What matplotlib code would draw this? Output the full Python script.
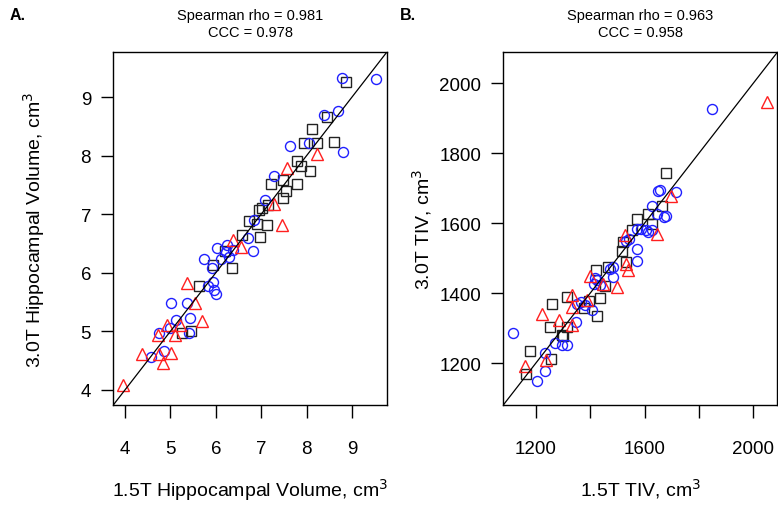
import matplotlib
matplotlib.use("Agg")
import matplotlib.pyplot as plt

plt.rcParams['font.family'] = ['Liberation Sans', 'DejaVu Sans']

# ---- Panel A: hippocampal volume (cm3) ----
a_sq_x = [8.88, 8.46, 8.13, 7.94, 8.22, 8.60, 7.79, 7.88, 8.08, 7.48, 7.21, 7.79, 7.54, 7.49,
          7.16, 6.95, 7.02, 6.73, 6.91, 7.13, 6.57, 6.97, 6.20, 5.94, 6.36, 5.63, 5.26, 5.45]
a_sq_y = [9.26, 8.66, 8.45, 8.22, 8.21, 8.23, 7.91, 7.82, 7.74, 7.59, 7.51, 7.51, 7.39, 7.28,
          7.15, 7.07, 7.11, 6.88, 6.84, 6.82, 6.64, 6.61, 6.37, 6.14, 6.09, 5.78, 4.98, 5.01]

a_ci_x = [8.79, 9.53, 8.38, 8.70, 7.63, 8.05, 8.81, 7.28, 7.08, 6.84, 6.72, 6.03, 6.24, 6.39,
          6.81, 6.30, 6.11, 5.75, 5.92, 5.83, 5.95, 5.96, 6.01, 5.01, 5.36, 5.13, 5.43, 5.00,
          4.76, 5.42, 4.86, 4.57, 6.22]
a_ci_y = [9.32, 9.31, 8.70, 8.76, 8.17, 8.22, 8.06, 7.66, 7.25, 6.91, 6.60, 6.43, 6.47, 6.39,
          6.37, 6.27, 6.24, 6.23, 6.09, 5.78, 5.85, 5.70, 5.63, 5.49, 5.49, 5.19, 5.22, 5.05,
          4.98, 4.97, 4.67, 4.57, 6.35]

a_tr_x = [8.24, 7.57, 7.29, 7.45, 6.39, 6.56, 5.36, 5.54, 5.69, 4.92, 5.22, 4.73, 5.10, 4.37,
          5.02, 4.84, 3.96, 4.76]
a_tr_y = [8.03, 7.79, 7.18, 6.82, 6.56, 6.44, 5.82, 5.48, 5.17, 5.11, 5.11, 4.94, 4.94, 4.61,
          4.63, 4.46, 4.08, 4.61]

# ---- Panel B: TIV (cm3) ----
b_sq_x = [1677, 1664, 1612, 1572, 1626, 1552, 1521, 1518, 1531, 1466, 1421, 1454, 1437, 1395,
          1377, 1426, 1313, 1261, 1252, 1316, 1295, 1300, 1179, 1256, 1163]
b_sq_y = [1742, 1649, 1626, 1612, 1598, 1579, 1546, 1519, 1489, 1475, 1465, 1421, 1387, 1377,
          1358, 1333, 1389, 1370, 1302, 1304, 1280, 1276, 1233, 1211, 1168]

b_ci_x = [1849, 1648, 1658, 1715, 1626, 1646, 1671, 1678, 1605, 1613, 1626, 1571, 1585, 1531,
          1543, 1571, 1572, 1485, 1472, 1485, 1417, 1426, 1413, 1436, 1352, 1366, 1380, 1406,
          1347, 1272, 1295, 1313, 1233, 1235, 1203, 1116]
b_ci_y = [1927, 1691, 1694, 1689, 1650, 1626, 1617, 1620, 1579, 1574, 1579, 1582, 1584, 1550,
          1555, 1527, 1491, 1446, 1470, 1475, 1443, 1436, 1427, 1422, 1370, 1373, 1366, 1351,
          1316, 1257, 1252, 1252, 1228, 1176, 1148, 1285]

b_tr_x = [2051, 1697, 1528, 1644, 1533, 1540, 1500, 1448, 1399, 1387, 1334, 1334, 1221, 1286,
          1333, 1237, 1160]
b_tr_y = [1945, 1678, 1566, 1568, 1484, 1465, 1418, 1426, 1450, 1380, 1395, 1359, 1339, 1322,
          1309, 1210, 1191]

fig = plt.figure(figsize=(7.78, 5.06), dpi=100)
axA = fig.add_axes([0.1456, 0.1976, 0.3514, 0.6970])
axB = fig.add_axes([0.6469, 0.1976, 0.3522, 0.6970])


def draw_panel(ax, sx, sy, cx, cy, tx, ty, lim):
    ax.plot(sx, sy, 's', ms=6.5, mfc='none', mec='#222222', mew=1.0)
    ax.plot(cx, cy, 'o', ms=7.2, mfc='none', mec='#1f1fff', mew=1.0)
    ax.plot(tx, ty, '^', ms=8, mfc='none', mec='#ff1f1f', mew=1.0)
    ax.plot(lim, lim, color='black', lw=0.9)
    ax.set_xlim(lim)
    ax.set_ylim(lim)
    for s in ax.spines.values():
        s.set_linewidth(1.0)
    ax.tick_params(direction='out', length=9, width=1.0, labelsize=13.5)
    ax.tick_params(axis='x', pad=16)
    ax.tick_params(axis='y', pad=7)


draw_panel(axA, a_sq_x, a_sq_y, a_ci_x, a_ci_y, a_tr_x, a_tr_y, [3.742, 9.765])
axA.set_xticks([4, 5, 6, 7, 8, 9])
axA.set_yticks([4, 5, 6, 7, 8, 9])
axA.set_xlabel('1.5T Hippocampal Volume, cm$^3$', fontsize=14, labelpad=14)
axA.set_ylabel('3.0T Hippocampal Volume, cm$^3$', fontsize=14, labelpad=24)

draw_panel(axB, b_sq_x, b_sq_y, b_ci_x, b_ci_y, b_tr_x, b_tr_y, [1080, 2088])
axB.set_xticks([1200, 1400, 1600, 1800, 2000])
axB.set_xticklabels(['1200', '', '1600', '', '2000'])
axB.set_yticks([1200, 1400, 1600, 1800, 2000])
axB.set_xlabel('1.5T TIV, cm$^3$', fontsize=14, labelpad=14)
axB.set_ylabel('3.0T TIV, cm$^3$', fontsize=14, labelpad=4)

# titles with statistics
fig.text(250 / 778, 1 - 16 / 506, 'Spearman rho = 0.981', ha='center', va='center', fontsize=10.5)
fig.text(250 / 778, 1 - 33 / 506, 'CCC = 0.978', ha='center', va='center', fontsize=10.5)
fig.text(640 / 778, 1 - 16 / 506, 'Spearman rho = 0.963', ha='center', va='center', fontsize=10.5)
fig.text(640 / 778, 1 - 33 / 506, 'CCC = 0.958', ha='center', va='center', fontsize=10.5)

fig.text(10 / 778, 1 - 16 / 506, 'A.', ha='left', va='center', fontsize=11.5, fontweight='bold')
fig.text(400 / 778, 1 - 16 / 506, 'B.', ha='left', va='center', fontsize=11.5, fontweight='bold')

fig.savefig('out.png', dpi=100)
